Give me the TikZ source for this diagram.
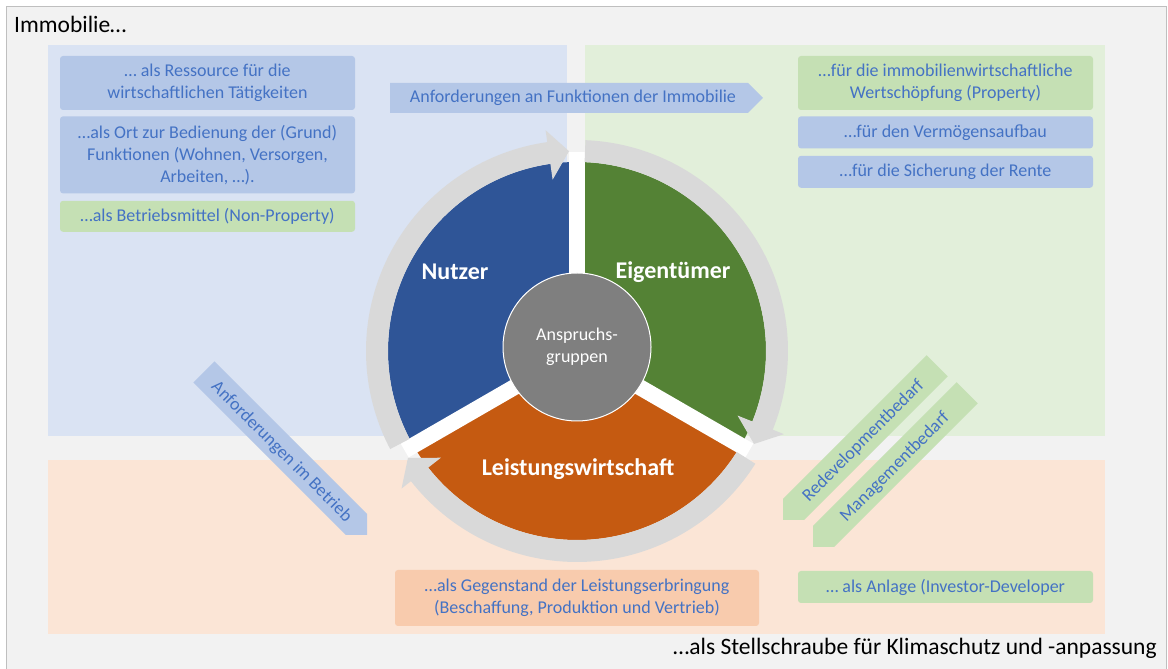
\documentclass[tikz,border=0pt]{standalone}
\usepackage{fontspec}
\setmainfont{Carlito}
\usetikzlibrary{positioning}

\definecolor{rahmen}{HTML}{F2F2F2}
\definecolor{rahmenlinie}{HTML}{BFBFBF}
\definecolor{feldblau}{HTML}{DAE3F3}
\definecolor{feldgruen}{HTML}{E2EFDA}
\definecolor{feldorange}{HTML}{FBE5D6}
\definecolor{kastenblau}{HTML}{B4C7E7}
\definecolor{kastengruen}{HTML}{C5E0B4}
\definecolor{kastenorange}{HTML}{F8CBAD}
\definecolor{schrift}{HTML}{4472C4}
\definecolor{nutzerfarbe}{HTML}{2F5597}
\definecolor{eigentuemerfarbe}{HTML}{548235}
\definecolor{leistungsfarbe}{HTML}{C55A11}
\definecolor{ring}{HTML}{D9D9D9}
\definecolor{mitte}{HTML}{7F7F7F}

\tikzset{
  kasten/.style={rounded corners=3pt, inner sep=0pt, minimum width=295pt, text=schrift, align=center, font=\fontsize{18}{22}\selectfont},
  pfeiltext/.style={inner sep=0pt, text=schrift, font=\fontsize{18}{22}\selectfont},
  segment/.style={anchor=base, text=white, font=\fontsize{24}{28}\selectfont\bfseries},
  titeltext/.style={inner sep=0pt, font=\fontsize{23.5}{28}\selectfont},
}

\begin{document}
\begin{tikzpicture}[x=1pt,y=1pt]
    \useasboundingbox (0,0) rectangle (1168,669);
    \fill[rahmen] (6,0) rectangle (1166,662);
    \draw[rahmenlinie, line width=1pt] (6,0) |- (1166,662) -- (1166,0);

    \fill[feldblau] (48,233) rectangle (567,624);
    \fill[feldgruen] (585,233) rectangle (1105,624);
    \fill[feldorange] (48,35) rectangle (1105,209);

    \node[titeltext, anchor=base west] (immobilie) at (14,636) {Immobilie…};
    \node[titeltext, anchor=base east] (stellschraube) at (1157,14) {…als Stellschraube für Klimaschutz und -anpassung};

    \node[kasten, fill=kastenblau, minimum height=54pt] (ressource) at (207.5,586) {… als Ressource für die\\wirtschaftlichen Tätigkeiten};
    \node[kasten, fill=kastenblau, minimum height=77pt, below=6pt of ressource] (ort) {…als Ort zur Bedienung der (Grund)\\Funktionen (Wohnen, Versorgen,\\Arbeiten, …).};
    \node[kasten, fill=kastengruen, minimum height=31pt, below=7pt of ort] (betriebsmittel) {…als Betriebsmittel (Non-Property)};

    \node[kasten, fill=kastengruen, minimum height=54pt] (wertschoepfung) at (945.5,586) {…für die immobilienwirtschaftliche\\Wertschöpfung (Property)};
    \node[kasten, fill=kastenblau, minimum height=32pt, below=6pt of wertschoepfung] (vermoegen) {…für den Vermögensaufbau};
    \node[kasten, fill=kastenblau, minimum height=32pt, below=7pt of vermoegen] (rente) {…für die Sicherung der Rente};

    \node[kasten, fill=kastenorange, minimum width=364pt, minimum height=56pt] (gegenstand) at (577,71) {…als Gegenstand der Leistungserbringung\\(Beschaffung, Produktion und Vertrieb)};
    \node[kasten, fill=kastengruen, minimum height=32pt] (anlage) at (945.5,82) {… als Anlage (Investor-Developer};

    \fill[kastenblau] (390,556) -- (748,556) -- (763,571) -- (748,586) -- (390,586) -- cycle;
    \node[pfeiltext] (funktionen) at (573,571) {Anforderungen an Funktionen der Immobilie};

    \fill[kastenblau] (367,134) -- ++(0,21.2) -- ++(-152.4,152.4) -- ++(-21.2,-21.2) -- ++(152.4,-152.4) -- cycle;
    \node[pfeiltext, rotate=-45] (betrieb) at (281.5,217) {Anforderungen im Betrieb};
    \fill[kastengruen] (783,149) -- ++(21.2,0) -- ++(143.6,143.6) -- ++(-21.2,21.2) -- ++(-143.6,-143.6) -- cycle;
    \node[pfeiltext, rotate=45] (redevelopment) at (863.5,228) {Redevelopmentbedarf};
    \fill[kastengruen] (813,122) -- ++(21.2,0) -- ++(143.6,143.6) -- ++(-21.2,21.2) -- ++(-143.6,-143.6) -- cycle;
    \node[pfeiltext, rotate=45] (management) at (895,202) {Managementbedarf};

    \begin{scope}[shift={(577,318)}]
        \fill[nutzerfarbe] (0,0) -- (90:189) arc[start angle=90, end angle=210, radius=189] -- cycle;
        \fill[leistungsfarbe] (0,0) -- (210:189) arc[start angle=210, end angle=330, radius=189] -- cycle;
        \fill[eigentuemerfarbe] (0,0) -- (-30:189) arc[start angle=-30, end angle=90, radius=189] -- cycle;
        \foreach \w in {90,210,330}
            \draw[white, line width=16pt] (0,0) -- (\w:199);
        \fill[ring] (87.7:211) arc[start angle=87.7, end angle=-21.9, radius=211] -- (-21.9:223) -- (-27.7:200) -- (-21.9:173) -- (-21.9:189) arc[start angle=-21.9, end angle=87.7, radius=189] -- cycle;
        \fill[ring] (-32.3:211) arc[start angle=-32.3, end angle=-141.9, radius=211] -- (-141.9:223) -- (-147.7:200) -- (-141.9:173) -- (-141.9:189) arc[start angle=-141.9, end angle=-32.3, radius=189] -- cycle;
        \fill[ring] (207.7:211) arc[start angle=207.7, end angle=98.1, radius=211] -- (98.1:223) -- (92.3:200) -- (98.1:173) -- (98.1:189) arc[start angle=98.1, end angle=207.7, radius=189] -- cycle;
    \end{scope}

    \node[circle, fill=mitte, draw=white, line width=1pt, minimum size=148pt, inner sep=0pt, text=white, align=center, font=\fontsize{18}{22}\selectfont] (anspruchsgruppen) at (577,322) {Anspruchs-\\gruppen};

    \node[segment] (nutzer) at (455,389) {Nutzer};
    \node[segment] (eigentuemer) at (673,390) {Eigentümer};
    \node[segment] (leistung) at (578,193) {Leistungswirtschaft};
\end{tikzpicture}
\end{document}
